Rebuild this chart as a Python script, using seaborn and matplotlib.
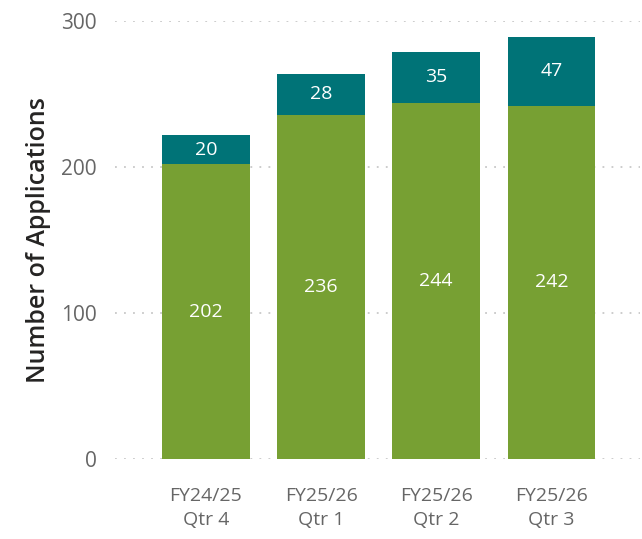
import matplotlib.pyplot as plt
import seaborn as sns
import pandas as pd

# data
quarters = ["FY24/25\nQtr 4", "FY25/26\nQtr 1", "FY25/26\nQtr 2", "FY25/26\nQtr 3"]
base_apps = [202, 236, 244, 242]
extra_apps = [20, 28, 35, 47]

green = "#77A033"
teal = "#007377"

df = pd.DataFrame({"quarter": quarters, "base": base_apps, "extra": extra_apps})
df["total"] = df["base"] + df["extra"]

sns.set_theme(style="white")
plt.rcParams["font.family"] = ["Open Sans", "DejaVu Sans"]

fig = plt.figure(figsize=(6.42, 5.39), dpi=100)
ax = fig.add_axes([0.179, 0.148, 0.818, 0.813])

# totals first (teal), then base on top (green) -> stacked look
sns.barplot(data=df, x="quarter", y="total", color=teal, width=0.76,
            saturation=1, linewidth=0, ax=ax)
sns.barplot(data=df, x="quarter", y="base", color=green, width=0.76,
            saturation=1, linewidth=0, ax=ax)

# labels centred in each segment
for bar, b, e in zip(ax.containers[0], df["base"], df["extra"]):
    ax.text(bar.get_x() + bar.get_width() / 2, b + e / 2, str(e),
            ha="center", va="center", color="white", fontsize=14)
for bar, b in zip(ax.containers[1], df["base"]):
    ax.text(bar.get_x() + bar.get_width() / 2, b / 2, str(b),
            ha="center", va="center", color="white", fontsize=14)

ax.set_ylim(0, 300)
ax.set_xlim(-0.79, 3.77)
ax.set_yticks([0, 100, 200, 300])
ax.set_axisbelow(True)
ax.yaxis.grid(True, color="#c8c8c8", linestyle=(0, (1, 4)), linewidth=1.3)
ax.xaxis.grid(False)
for s in ax.spines.values():
    s.set_visible(False)

ax.tick_params(axis="y", colors="#666666", labelsize=15, length=0, pad=13)
ax.tick_params(axis="x", colors="#666666", labelsize=14, length=0, pad=20)
for lab in ax.get_xticklabels():
    lab.set_linespacing(1.45)
ax.set_xlabel("")
ax.set_ylabel("Number of Applications", fontsize=18, color="#252423",
              fontweight="semibold", labelpad=7)

fig.savefig("out.png", dpi=100)
